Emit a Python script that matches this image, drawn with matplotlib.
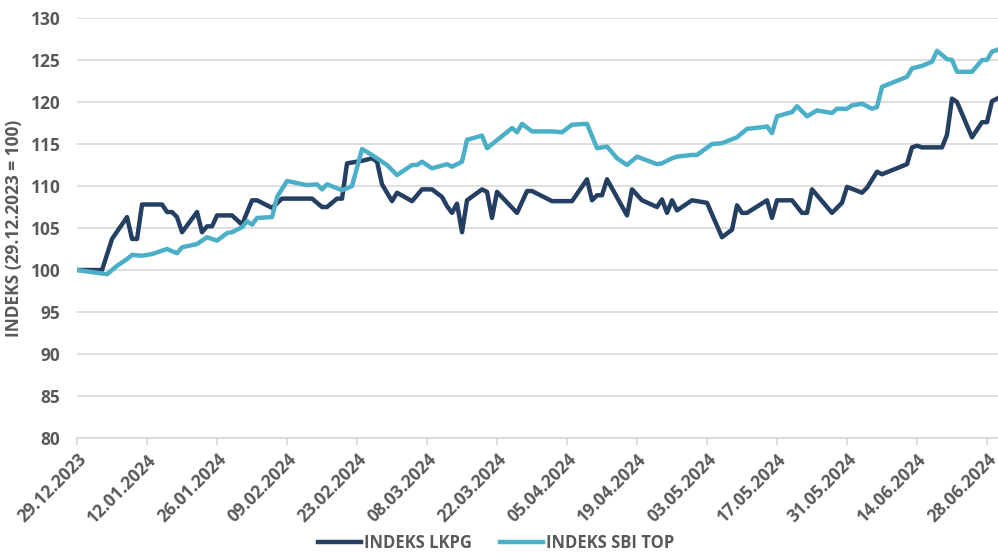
import numpy as np
import pandas as pd
import matplotlib
matplotlib.use("Agg")
import matplotlib.pyplot as plt
from matplotlib import font_manager as fm

# Data (day offset from 29.12.2023, index value)
start = pd.Timestamp("2023-12-29")

lkpg_days = [0, 5, 7, 10, 11, 12, 13, 17, 18, 19, 20, 21, 24, 25, 26, 27, 28, 31,
             33, 35, 36, 39, 41, 47, 49, 50, 52, 53, 54, 57, 59, 60, 61, 63, 64,
             67, 69, 71, 73, 74, 75, 76, 77, 78, 81, 82, 83, 84, 88, 90, 91, 95,
             99, 102, 103, 104, 105, 106, 110, 111, 113, 116, 117, 118, 119, 120,
             123, 126, 129, 131, 132, 133, 134, 138, 139, 140, 143, 145, 146, 147,
             151, 153, 154, 157, 158, 160, 161, 166, 167, 168, 169, 173, 174, 175,
             176, 179, 181, 182, 183, 184]
lkpg_vals = [100.0, 100.0, 103.7, 106.3, 103.7, 103.7, 107.8, 107.8, 106.9, 106.9,
             106.3, 104.5, 106.9, 104.5, 105.2, 105.2, 106.5, 106.5, 105.4, 108.3,
             108.3, 107.4, 108.5, 108.5, 107.5, 107.5, 108.5, 108.5, 112.7, 113.0,
             113.3, 112.9, 110.2, 108.2, 109.2, 108.2, 109.6, 109.6, 108.7, 107.6,
             106.8, 107.9, 104.5, 108.3, 109.6, 109.3, 106.2, 109.3, 106.8, 109.4,
             109.4, 108.2, 108.2, 110.8, 108.3, 108.9, 108.9, 110.8, 106.5, 109.6,
             108.3, 107.5, 108.4, 106.8, 108.3, 107.1, 108.3, 108.0, 103.9, 104.8,
             107.7, 106.8, 106.8, 108.3, 106.2, 108.3, 108.3, 106.8, 106.8, 109.6,
             106.8, 108.0, 109.9, 109.2, 109.8, 111.7, 111.4, 112.6, 114.6, 114.8,
             114.6, 114.6, 116.1, 120.4, 120.0, 115.8, 117.6, 117.6, 120.1, 120.4]

sbi_days = [0, 6, 8, 10, 11, 13, 15, 17, 18, 20, 21, 24, 25, 26, 28, 30, 31, 33,
            34, 35, 36, 39, 40, 42, 46, 48, 49, 50, 53, 55, 57, 59, 62, 64, 67,
            68, 69, 71, 74, 75, 77, 78, 81, 82, 87, 88, 89, 91, 95, 97, 99, 102,
            104, 106, 108, 110, 111, 112, 116, 117, 119, 120, 123, 124, 127, 129,
            132, 134, 137, 138, 139, 140, 143, 144, 146, 148, 151, 152, 154, 155,
            157, 159, 160, 161, 166, 167, 169, 171, 172, 174, 175, 176, 179, 181,
            182, 183, 184]
sbi_vals = [100.0, 99.5, 100.5, 101.3, 101.8, 101.7, 101.9, 102.3, 102.5, 102.0,
            102.7, 103.1, 103.5, 103.9, 103.5, 104.4, 104.5, 105.1, 105.8, 105.4,
            106.2, 106.3, 108.7, 110.6, 110.1, 110.2, 109.6, 110.2, 109.5, 110.0,
            114.4, 113.7, 112.5, 111.3, 112.5, 112.5, 112.9, 112.1, 112.6, 112.3,
            112.9, 115.5, 116.0, 114.5, 116.9, 116.4, 117.4, 116.5, 116.5, 116.4,
            117.3, 117.4, 114.5, 114.7, 113.3, 112.5, 113.0, 113.5, 112.6, 112.7,
            113.3, 113.5, 113.7, 113.7, 115.0, 115.1, 115.8, 116.8, 117.0, 117.1,
            116.3, 118.3, 118.8, 119.5, 118.3, 119.0, 118.7, 119.2, 119.2, 119.6,
            119.8, 119.2, 119.4, 121.8, 123.0, 124.0, 124.3, 124.8, 126.1, 125.1,
            125.0, 123.6, 123.6, 125.0, 125.0, 126.0, 126.2]

series_names = ["INDEKS LKPG", "INDEKS SBI TOP"]
tick_labels = ["29.12.2023", "12.01.2024", "26.01.2024", "09.02.2024", "23.02.2024",
               "08.03.2024", "22.03.2024", "05.04.2024", "19.04.2024", "03.05.2024",
               "17.05.2024", "31.05.2024", "14.06.2024", "28.06.2024"]

dark = "#243f62"
light = "#4bafc8"
text_col = "#595959"

# the original uses a condensed DIN-like face; take a condensed cut if one is installed
family, stretch = "Roboto", "normal"
for fam in ["Roboto", "Noto Sans", "Open Sans", "DejaVu Sans"]:
    cut = [f for f in fm.fontManager.ttflist
           if f.name == fam and f.stretch in ("condensed", "semi-condensed")]
    if cut:
        family, stretch = fam, cut[0].stretch
        break
plt.rcParams["font.family"] = [family, "DejaVu Sans"]
plt.rcParams["font.stretch"] = stretch

lkpg_dates = start + pd.to_timedelta(lkpg_days, unit="D")
sbi_dates = start + pd.to_timedelta(sbi_days, unit="D")
tick_dates = pd.to_datetime(tick_labels, format="%d.%m.%Y")

fig = plt.figure(figsize=(9.98, 5.56), dpi=100)
ax = fig.add_axes([0.0772, 0.2122, 0.9228, 0.7554])

ax.plot(lkpg_dates, lkpg_vals, color=dark, lw=3.2, solid_joinstyle="round",
        label=series_names[0], zorder=3)
ax.plot(sbi_dates, sbi_vals, color=light, lw=3.2, solid_joinstyle="round",
        label=series_names[1], zorder=3)

ax.set_ylim(80, 130)
ax.set_yticks(np.arange(80, 131, 5))
ax.set_xlim(start, start + pd.Timedelta(days=184.2))
ax.set_xticks(tick_dates)
ax.set_xticklabels(tick_labels, rotation=45, ha="right", rotation_mode="anchor")

ax.grid(axis="y", color="#d9d9d9", lw=1.2)
ax.set_axisbelow(True)
for side in ["left", "right", "top"]:
    ax.spines[side].set_visible(False)
ax.spines["bottom"].set_color("#d9d9d9")
ax.spines["bottom"].set_linewidth(1.2)

ax.tick_params(axis="y", length=0, pad=12, labelsize=12.5, labelcolor=text_col)
ax.tick_params(axis="x", length=5, color="#d9d9d9", width=1.2, pad=4,
               labelsize=12.5, labelcolor=text_col)
for lab in ax.get_xticklabels() + ax.get_yticklabels():
    lab.set_fontweight("bold")

ax.set_ylabel("INDEKS (29.12.2023 = 100)", fontsize=12.5, fontweight="bold",
              color=text_col)
ax.yaxis.set_label_coords(-0.059, 0.5)

fig.legend(loc="lower center", bbox_to_anchor=(0.497, -0.02), ncol=2, frameon=False,
           handlelength=2.6, columnspacing=1.7, handletextpad=0.15,
           prop={"size": 12, "weight": "bold"}, labelcolor=text_col)

fig.savefig("out.png", dpi=100)
